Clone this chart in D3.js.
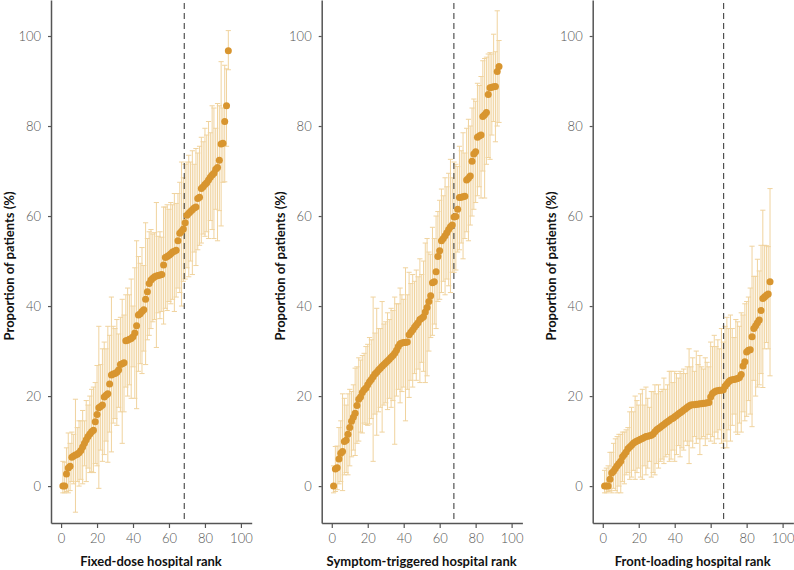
<!DOCTYPE html>
<html><head><meta charset="utf-8">
<script src="https://cdn.jsdelivr.net/npm/d3@7"></script>
<style>
html,body{margin:0;padding:0;background:#fff;}
svg{display:block;}
.tick text{font-family:Lato,"DejaVu Sans",sans-serif;font-weight:300;fill:#555;font-size:13px;}
.axtitle{font-family:Lato,"DejaVu Sans",sans-serif;font-weight:700;fill:#111;font-size:13px;}
</style></head>
<body>
<script>
// ---- data ----
const xTicks = [0,20,40,60,80,100];
const yTicks = [0,20,40,60,80,100];
const panelTitles = ["Fixed-dose hospital rank","Symptom-triggered hospital rank","Front-loading hospital rank"];
const yTitle = "Proportion of patients (%)";
const cutoffs = [68.5, 67.9, 67.2];

const fixedDose = [0,0,2.7,4.0,4.4,6.4,6.7,6.9,7.1,7.4,7.9,8.7,9.5,10.3,11.0,11.6,12.1,12.4,14.3,15.9,17.4,17.7,18.0,19.8,20.2,20.5,22.7,24.7,24.9,25.0,25.3,25.8,27.0,27.2,27.4,32.3,32.4,32.6,32.8,33.2,34.0,35.6,38.0,38.3,38.8,39.2,41.5,43.2,45.0,45.8,46.2,46.5,46.7,46.8,46.9,47.0,49.1,50.8,51.0,51.3,51.6,52.0,52.2,52.4,54.5,56.2,56.6,57.1,58.5,60.2,60.6,61.0,61.4,61.8,62.0,63.9,64.2,66.1,66.5,67.0,67.4,68.0,68.6,69.1,69.5,70.4,70.8,72.4,76.0,76.2,81.0,84.5,96.7];
const fixedDoseLow = [-1.5,-1.5,-1.2,-1.5,-1.0,1.0,0.5,-5.8,1.0,0.0,1.5,0.5,4.5,1.0,4.0,3.0,3.2,3.0,5.0,4.5,-0.5,8.0,5.5,7.0,10.0,5.3,12.0,7.6,14.0,15.0,13.5,17.5,16.5,9.5,16.5,22.0,20.0,22.5,19.5,26.5,19.5,17.2,25.5,27.2,25.0,30.0,27.0,32.5,33.5,35.0,36.5,37.0,30.8,38.5,37.2,38.8,36.0,39.5,39.0,41.0,40.5,41.5,38.8,42.0,44.0,43.0,40.0,45.5,46.0,48.5,46.5,50.0,47.0,52.0,49.0,52.5,53.5,54.0,56.0,55.5,56.5,55.0,59.0,57.0,55.0,61.5,54.5,61.2,57.8,67.5,67.6,75.5,92.5];
const fixedDoseHigh = [5.5,5.3,8.5,11.8,9.5,12.0,11.5,19.3,13.0,14.5,14.5,16.8,14.5,19.0,18.0,20.0,21.5,22.0,23.0,26.8,35.5,27.0,30.5,32.0,30.5,35.5,33.5,42.0,35.5,35.0,37.0,33.8,37.5,41.5,38.0,42.5,44.0,42.5,46.0,40.0,48.5,54.5,51.0,49.5,53.0,49.0,58.5,55.0,56.5,57.0,56.0,56.3,63.0,55.5,56.5,55.3,62.0,62.0,62.5,61.5,63.0,62.5,65.0,62.8,65.0,67.5,72.0,68.5,71.5,72.0,73.5,72.0,74.5,71.5,75.0,74.0,75.5,77.5,76.5,79.5,78.0,81.0,78.5,84.5,84.0,79.5,85.0,84.5,94.3,84.0,93.5,92.7,101.2];

const symptom = [0,3.8,4.1,6.0,7.3,7.7,9.9,10.2,11.5,13.0,14.4,15.3,16.2,17.9,19.3,19.8,20.8,21.4,21.8,22.5,23.2,23.7,24.3,24.9,25.3,25.8,26.2,26.6,27.0,27.4,27.8,28.2,28.6,29.0,29.5,30.2,31.0,31.6,31.8,31.9,31.9,32.0,33.6,34.2,34.7,35.3,35.8,36.3,37.0,37.3,37.6,38.7,39.7,41.0,42.3,45.2,45.4,47.6,51.0,52.3,54.5,55.0,55.6,56.3,57.0,57.6,58.0,59.8,59.9,61.5,64.1,64.2,64.3,64.4,68.0,68.4,68.9,72.2,73.8,74.3,77.5,77.8,78.0,82.1,82.5,83.0,87.0,88.5,88.6,88.7,88.8,92.1,93.2];
const symptomLow = [-1.5,-1.2,-0.8,0.5,1.0,-1.0,2.5,3.0,2.5,4.5,6.5,8.0,6.8,9.5,10.0,12.0,11.8,14.0,13.7,13.5,13.8,15.0,5.5,16.0,11.3,16.5,17.5,12.0,18.0,18.5,17.0,19.5,17.5,19.0,9.3,20.0,21.5,18.5,21.0,22.0,14.5,21.5,19.7,23.5,22.0,25.0,23.5,26.0,23.0,27.5,25.5,23.0,24.5,30.0,33.0,33.5,36.0,35.0,41.0,41.5,43.0,45.5,42.5,46.0,44.5,43.0,47.5,47.5,48.0,52.0,52.5,54.0,50.5,55.0,56.5,54.5,58.0,60.0,61.5,63.0,64.5,66.5,64.0,70.0,64.0,71.5,73.0,72.6,78.0,81.0,76.5,80.0,80.8];
const symptomHigh = [4.5,8.8,8.9,13.0,14.5,20.5,19.5,18.0,20.5,21.5,21.0,22.5,26.2,26.5,28.5,28.0,29.0,29.5,31.0,31.5,33.0,32.5,42.0,34.0,39.5,35.0,35.0,41.0,36.0,36.5,38.5,37.0,39.5,39.0,42.0,40.5,40.5,44.0,42.5,41.5,48.5,42.5,47.5,45.0,47.0,45.5,48.0,46.5,50.5,47.0,50.0,54.0,55.0,52.0,51.5,57.5,55.0,60.0,61.0,63.5,66.0,64.5,68.5,66.5,69.5,72.6,68.5,72.0,71.5,71.0,75.5,74.5,78.5,74.0,79.5,81.5,80.0,84.0,86.0,85.5,89.5,89.0,91.0,94.5,95.0,95.3,96.0,96.3,96.0,100.4,96.5,105.6,99.0];

const frontLoad = [0,0,0,1.5,2.9,3.3,3.9,4.5,5.0,5.5,6.5,7.0,7.6,8.3,8.7,9.1,9.5,9.8,10.0,10.2,10.4,10.6,10.8,11.0,11.1,11.2,11.3,11.6,12.1,12.5,12.8,13.1,13.4,13.7,14.0,14.3,14.6,14.9,15.1,15.4,15.7,16.0,16.3,16.6,16.9,17.2,17.5,17.8,18.0,18.1,18.1,18.2,18.2,18.3,18.3,18.4,18.4,18.5,18.6,19.8,20.6,20.9,21.1,21.2,21.3,21.3,21.4,22.2,22.7,23.2,23.5,23.6,23.7,23.8,23.9,24.1,24.8,26.7,27.6,29.8,30.2,30.3,33.2,35.0,35.6,36.3,36.9,39.0,41.7,42.0,42.4,42.7,45.4];
const frontLoadLow = [-1.5,-1.5,-1.2,-1.0,-1.5,-0.5,-1.0,-1.5,0.0,-1.5,1.0,0.5,2.5,3.0,1.5,2.0,3.5,1.5,3.0,4.0,2.0,1.5,4.5,2.5,4.0,5.5,2.0,3.0,2.5,5.0,4.0,5.5,6.0,5.0,6.5,7.0,5.5,6.0,8.0,5.5,7.0,9.0,6.5,8.5,8.0,10.0,9.0,5.0,10.0,8.5,11.0,9.5,10.5,7.0,10.5,11.0,9.0,10.5,11.5,10.0,11.0,9.5,12.0,10.5,12.5,9.5,8.5,10.0,8.5,12.5,10.0,13.5,16.0,12.0,11.5,14.0,12.0,16.5,14.5,15.5,19.0,16.0,13.2,23.5,20.0,22.0,22.5,25.0,21.9,30.5,31.9,30.5,24.5];
const frontLoadHigh = [3.5,4.0,4.5,7.5,7.5,9.5,10.5,11.0,11.5,11.5,12.0,12.0,12.5,13.0,16.5,17.5,16.5,20.0,19.0,18.0,20.5,21.5,18.0,22.0,19.5,17.5,21.0,21.0,22.5,20.5,22.5,21.0,21.5,24.0,21.5,22.5,25.5,25.5,23.0,25.5,25.0,24.0,25.5,25.0,26.0,25.0,26.5,30.5,26.5,28.5,25.5,30.0,27.0,29.0,26.5,26.0,28.5,27.5,26.5,32.0,31.0,33.5,31.0,32.5,30.5,35.0,32.0,35.5,37.5,35.0,38.0,35.0,33.0,37.0,36.5,35.5,38.5,38.0,40.5,41.0,42.0,44.0,53.3,46.6,46.6,50.4,47.8,53.5,61.3,53.5,53.4,53.2,66.1];

const panels = [
  {mean: fixedDose, low: fixedDoseLow, high: fixedDoseHigh},
  {mean: symptom, low: symptomLow, high: symptomHigh},
  {mean: frontLoad, low: frontLoadLow, high: frontLoadHigh}
];

// ---- layout ----
const W = 794, H = 570;
const axisLefts = [51, 321.7, 592.7];
const plotW = 200.7, plotH = 523;
const dotColor = "#d8952f", barColor = "#f0d39e";

const svg = d3.select("body").append("svg").attr("width", W).attr("height", H);

panels.forEach((p, i) => {
  const L = axisLefts[i];
  const x = d3.scaleLinear().domain([-5.6, 106]).range([L, L + plotW]);
  const y = d3.scaleLinear().domain([-8.2, 108]).range([plotH, 0]);
  const g = svg.append("g");
  const data = p.mean.map((v, k) => ({rank: k + 1, v, lo: p.low[k], hi: p.high[k]}));

  // error bars
  const eb = g.append("g").attr("stroke", barColor).attr("stroke-width", 1).attr("fill", "none");
  eb.selectAll("line.v").data(data).join("line").attr("class","v")
    .attr("x1", d => x(d.rank)).attr("x2", d => x(d.rank))
    .attr("y1", d => y(d.lo)).attr("y2", d => y(d.hi));
  eb.selectAll("line.t").data(data).join("line").attr("class","t")
    .attr("x1", d => x(d.rank) - 2.6).attr("x2", d => x(d.rank) + 2.6)
    .attr("y1", d => y(d.hi)).attr("y2", d => y(d.hi));
  eb.selectAll("line.b").data(data).join("line").attr("class","b")
    .attr("x1", d => x(d.rank) - 2.6).attr("x2", d => x(d.rank) + 2.6)
    .attr("y1", d => y(d.lo)).attr("y2", d => y(d.lo));

  // cutoff dashed line
  g.append("line")
    .attr("x1", x(cutoffs[i])).attr("x2", x(cutoffs[i]))
    .attr("y1", 3).attr("y2", plotH)
    .attr("stroke", "#444").attr("stroke-width", 1.1).attr("stroke-dasharray", "6,4");

  // points
  g.append("g").selectAll("circle").data(data).join("circle")
    .attr("cx", d => x(d.rank)).attr("cy", d => y(d.v)).attr("r", 3.5)
    .attr("fill", dotColor);

  // axes
  const ax = g.append("g").attr("transform", `translate(0,${plotH})`)
    .call(d3.axisBottom(x).tickValues(xTicks).tickSize(5).tickSizeOuter(0).tickPadding(6));
  const ay = g.append("g").attr("transform", `translate(${L},0)`)
    .call(d3.axisLeft(y).tickValues(yTicks).tickSize(3).tickSizeOuter(0).tickPadding(7));
  [ax, ay].forEach(a => {
    a.attr("font-size", null).attr("font-family", null);
    a.select(".domain").attr("stroke", "#555").attr("stroke-width", 1.5);
    a.selectAll(".tick line").attr("stroke", "#555").attr("stroke-width", 1.2);
  });

  // titles
  g.append("text").attr("class", "axtitle")
    .attr("x", x(50)).attr("y", 566).attr("text-anchor", "middle").text(panelTitles[i]);
  g.append("text").attr("class", "axtitle")
    .attr("transform", `translate(${L - 37},266) rotate(-90)`)
    .attr("text-anchor", "middle").text(yTitle);
});
</script>
</body></html>
